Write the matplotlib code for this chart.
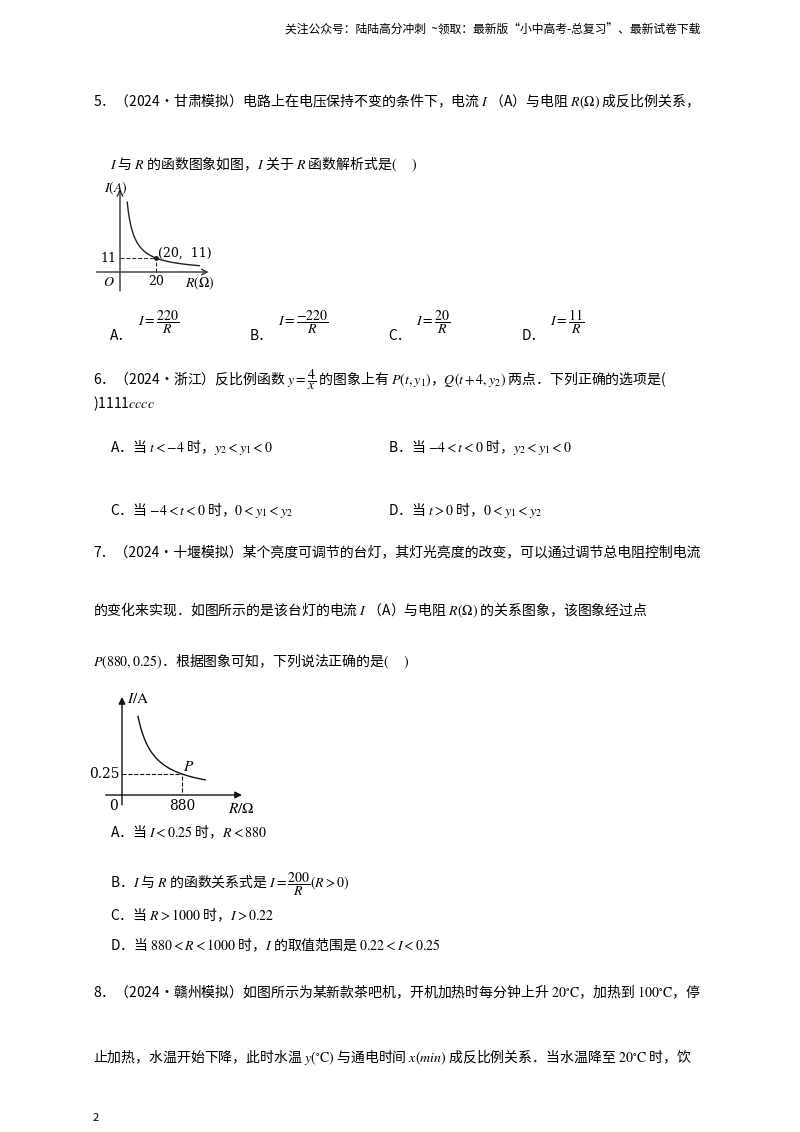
import matplotlib
matplotlib.use("Agg")
import matplotlib.pyplot as plt
import numpy as np

plt.rcParams['font.family'] = ['Noto Sans CJK SC', 'DejaVu Sans']
plt.rcParams['mathtext.fontset'] = 'stix'

# chart 1 data
k1 = 220
r1_range = [4, 44]
p1 = (20, 11)
# chart 2 data
k2 = 220
r2_range = [235, 1220]
p2 = (880, 0.25)

W, H = 800, 1132
fig = plt.figure(figsize=(8, 11.32), dpi=100)
fs = 10

def T(x, y, s, size=fs, **kw):
    fig.text(x / W, 1 - y / H, s, fontsize=size, va='center', ha=kw.pop('ha', 'left'), **kw)

T(700, 30, "关注公众号：陆陆高分冲刺  ~领取：最新版“小中高考-总复习”、最新试卷下载", size=8.5, ha='right')

T(93, 101, "5．（2024•甘肃模拟）电路上在电压保持不变的条件下，电流 $I$ （A）与电阻 $R(\\Omega)$ 成反比例关系，")
T(110, 164, "$I$ 与 $R$ 的函数图象如图，$I$ 关于 $R$ 函数解析式是$($     $)$")
opts = [("A．", r"$I=\dfrac{220}{R}$", 110), ("B．", r"$I=\dfrac{-220}{R}$", 250),
        ("C．", r"$I=\dfrac{20}{R}$", 388), ("D．", r"$I=\dfrac{11}{R}$", 522)]
for lab, f, x in opts:
    T(x, 336, lab)
    T(x + 28, 322, f, size=10)

T(93, 380, "6．（2024•浙江）反比例函数 $y=\\dfrac{4}{x}$ 的图象上有 $P(t,y_1)$，$Q(t+4,y_2)$ 两点．下列正确的选项是(")
T(93, 404, ")1111$cccc$")
T(110, 448, "A．当 $t<-4$ 时，$y_2<y_1<0$")
T(388, 448, "B．当 $-4<t<0$ 时，$y_2<y_1<0$")
T(110, 510, "C．当 $-4<t<0$ 时，$0<y_1<y_2$")
T(388, 510, "D．当 $t>0$ 时，$0<y_1<y_2$")

T(93, 552, "7．（2024•十堰模拟）某个亮度可调节的台灯，其灯光亮度的改变，可以通过调节总电阻控制电流")
T(93, 610, "的变化来实现．如图所示的是该台灯的电流 $I$ （A）与电阻 $R(\\Omega)$ 的关系图象，该图象经过点")
T(93, 662, "$P(880,0.25)$．根据图象可知，下列说法正确的是$($     $)$")
T(110, 832, "A．当 $I<0.25$ 时，$R<880$")
T(110, 884, "B．$I$ 与 $R$ 的函数关系式是 $I=\\dfrac{200}{R}(R>0)$")
T(110, 915, "C．当 $R>1000$ 时，$I>0.22$")
T(110, 945, "D．当 $880<R<1000$ 时，$I$ 的取值范围是 $0.22<I<0.25$")
T(93, 992, "8．（2024•赣州模拟）如图所示为某新款茶吧机，开机加热时每分钟上升 $20^{\\circ}\\mathrm{C}$，加热到 $100^{\\circ}\\mathrm{C}$，停")
T(93, 1057, "止加热，水温开始下降，此时水温 $y(^{\\circ}\\mathrm{C})$ 与通电时间 $x(min)$ 成反比例关系．当水温降至 $20^{\\circ}\\mathrm{C}$ 时，饮")
T(93, 1118, "2", size=8)

def make_axes(px0, px1, py0, py1, ox, oy, sx, sy):
    # pixel box, origin pixel, px per unit
    ax = fig.add_axes([px0 / W, 1 - py1 / H, (px1 - px0) / W, (py1 - py0) / H])
    ax.set_xlim((px0 - ox) / sx, (px1 - ox) / sx)
    ax.set_ylim((oy - py1) / sy, (oy - py0) / sy)
    ax.axis('off')
    return ax

# chart 1
ax1 = make_axes(90, 215, 185, 295, 120, 272, 1.8, 1.27)
xl, yl = ax1.get_xlim(), ax1.get_ylim()
ax1.annotate("", xy=(xl[1] - 2, 0), xytext=(xl[0] + 2, 0),
             arrowprops=dict(arrowstyle='->', lw=1, color='#333'))
ax1.annotate("", xy=(0, yl[1] - 1), xytext=(0, yl[0] + 1),
             arrowprops=dict(arrowstyle='->', lw=1, color='#333'))
r = np.linspace(*r1_range, 200)
ax1.plot(r, k1 / r, color='#222', lw=1)
ax1.plot([0, p1[0]], [p1[1]] * 2, ls='--', color='#333', lw=0.8)
ax1.plot([p1[0]] * 2, [0, p1[1]], ls='--', color='#333', lw=0.8)
ax1.plot(*p1, 'o', ms=2.5, color='#222')
ax1.text(p1[0] + 1, p1[1] + 1, "(20,  11)", fontsize=9, family='DejaVu Serif')
ax1.text(-2, p1[1], "11", ha='right', va='center', fontsize=9, family='DejaVu Serif')
ax1.text(p1[0], -2, "20", ha='center', va='top', fontsize=9, family='DejaVu Serif')
ax1.text(-3, -2, "$O$", ha='right', va='top', fontsize=10)
ax1.text(36, -2, r"$R(\Omega)$", ha='left', va='top', fontsize=10)
ax1.text(-2, yl[1] - 3, r"$I(A)$", ha='center', va='center', fontsize=10)

# chart 2
ax2 = make_axes(95, 260, 690, 815, 122, 795, 0.0682, 84)
xl, yl = ax2.get_xlim(), ax2.get_ylim()
ax2.annotate("", xy=(1800, 0), xytext=(-280, 0),
             arrowprops=dict(arrowstyle='-|>', lw=1, color='#111'))
ax2.annotate("", xy=(0, 1.2), xytext=(0, -0.15),
             arrowprops=dict(arrowstyle='-|>', lw=1, color='#111'))
r = np.linspace(*r2_range, 200)
ax2.plot(r, k2 / r, color='#111', lw=1)
ax2.plot([0, p2[0]], [p2[1]] * 2, ls='--', color='#111', lw=0.8)
ax2.plot([p2[0]] * 2, [0.03, p2[1]], ls='--', color='#111', lw=0.8)
ax2.text(p2[0] + 20, p2[1] + 0.03, "$P$", fontsize=11)
ax2.text(-40, p2[1], "0.25", ha='right', va='center', fontsize=10, family='DejaVu Serif')
ax2.text(p2[0], -0.05, "880", ha='center', va='top', fontsize=10, family='DejaVu Serif')
ax2.text(-60, -0.05, "0", ha='right', va='top', fontsize=10, family='DejaVu Serif')
ax2.text(1550, -0.06, r"$R/\Omega$", ha='left', va='top', fontsize=11)
ax2.text(80, 1.15, r"$I/\mathrm{A}$", ha='left', va='center', fontsize=11)

fig.savefig("out.png", dpi=100)
